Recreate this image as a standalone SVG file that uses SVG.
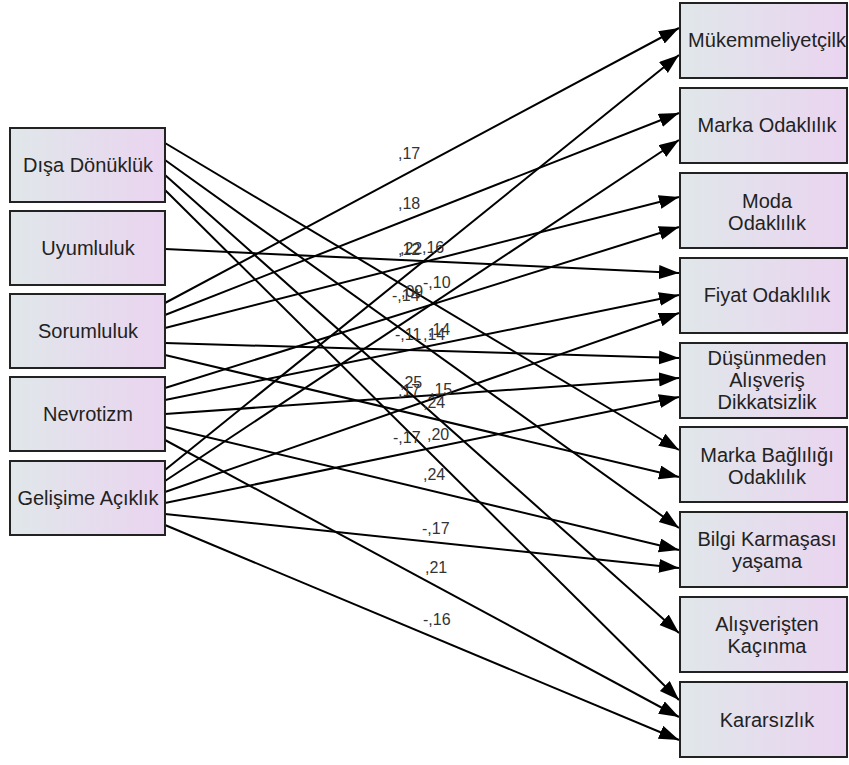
<svg xmlns="http://www.w3.org/2000/svg" width="849" height="765" viewBox="0 0 849 765">
<defs>
<linearGradient id="bg" x1="0" y1="0" x2="1" y2="0">
<stop offset="0" stop-color="#e0e7ea"/>
<stop offset="1" stop-color="#ead4f0"/>
</linearGradient>
<marker id="ah" markerUnits="userSpaceOnUse" markerWidth="22" markerHeight="16" refX="20" refY="7" orient="auto">
<path d="M0,0 L20,7 L0,14 z" fill="#000"/>
</marker>
<style>
.box{fill:url(#bg);stroke:#222;stroke-width:2}
.t{font-family:"Liberation Sans",Arial,sans-serif;font-size:20px;fill:#222;text-anchor:middle}
.e{stroke:#000;stroke-width:2;fill:none;marker-end:url(#ah)}
.l{font-family:"Liberation Sans",Arial,sans-serif;font-size:16px;fill:#333}
</style>
</defs>
<rect width="849" height="765" fill="#fff"/>
<g id="connectors">
<line class="e" x1="165" y1="143" x2="679" y2="450"/>
<line class="e" x1="165" y1="160" x2="679" y2="528"/>
<line class="e" x1="165" y1="175" x2="679" y2="633"/>
<line class="e" x1="165" y1="190" x2="679" y2="700"/>
<line class="e" x1="165" y1="249" x2="679" y2="273"/>
<line class="e" x1="165" y1="303" x2="679" y2="28"/>
<line class="e" x1="165" y1="315" x2="679" y2="113"/>
<line class="e" x1="165" y1="328" x2="679" y2="197"/>
<line class="e" x1="165" y1="343" x2="679" y2="358"/>
<line class="e" x1="165" y1="355" x2="679" y2="477"/>
<line class="e" x1="165" y1="388" x2="679" y2="227"/>
<line class="e" x1="165" y1="400" x2="679" y2="295"/>
<line class="e" x1="165" y1="414" x2="679" y2="378"/>
<line class="e" x1="165" y1="427" x2="679" y2="550"/>
<line class="e" x1="165" y1="440" x2="679" y2="717"/>
<line class="e" x1="165" y1="470" x2="679" y2="55"/>
<line class="e" x1="165" y1="481" x2="679" y2="140"/>
<line class="e" x1="165" y1="492" x2="679" y2="313"/>
<line class="e" x1="165" y1="503" x2="679" y2="397"/>
<line class="e" x1="165" y1="514" x2="679" y2="568"/>
<line class="e" x1="165" y1="525" x2="679" y2="740"/>
</g>
<g id="labels">
<text class="l" x="398" y="159">,17</text>
<text class="l" x="398" y="209">,18</text>
<text class="l" x="400" y="254">,22</text>
<text class="l" x="398" y="255">,12</text>
<text class="l" x="422" y="253">,16</text>
<text class="l" x="423" y="288">-,10</text>
<text class="l" x="401" y="297">,09</text>
<text class="l" x="392" y="301">-,14</text>
<text class="l" x="395" y="340">-,11</text>
<text class="l" x="423" y="340">,14</text>
<text class="l" x="428" y="335">,14</text>
<text class="l" x="400" y="388">,25</text>
<text class="l" x="398" y="396">,17</text>
<text class="l" x="430" y="395">,15</text>
<text class="l" x="423" y="408">,24</text>
<text class="l" x="393" y="443">-,17</text>
<text class="l" x="427" y="440">,20</text>
<text class="l" x="423" y="480">,24</text>
<text class="l" x="422" y="534">-,17</text>
<text class="l" x="425" y="573">,21</text>
<text class="l" x="423" y="625">-,16</text>
</g>
<g id="n_disa"><rect class="box" x="10" y="128" width="155" height="74"/><text class="t" x="88" y="172">Dışa Dönüklük</text></g>
<g id="n_uyum"><rect class="box" x="10" y="211" width="155" height="74"/><text class="t" x="88" y="255">Uyumluluk</text></g>
<g id="n_sorum"><rect class="box" x="10" y="294" width="155" height="74"/><text class="t" x="88" y="338">Sorumluluk</text></g>
<g id="n_nevro"><rect class="box" x="10" y="377" width="155" height="74"/><text class="t" x="88" y="421">Nevrotizm</text></g>
<g id="n_gelis"><rect class="box" x="10" y="461" width="155" height="74"/><text class="t" x="88" y="505">Gelişime Açıklık</text></g>
<g id="n_mukem"><rect class="box" x="680" y="3" width="167" height="75"/><text class="t" x="767" y="47">Mükemmeliyetçilk</text></g>
<g id="n_marka"><rect class="box" x="680" y="88" width="167" height="75"/><text class="t" x="767" y="132">Marka Odaklılık</text></g>
<g id="n_moda"><rect class="box" x="680" y="173" width="167" height="75"/><text class="t" x="767" y="208">Moda</text><text class="t" x="767" y="230">Odaklılık</text></g>
<g id="n_fiyat"><rect class="box" x="680" y="258" width="167" height="75"/><text class="t" x="767" y="302">Fiyat Odaklılık</text></g>
<g id="n_dusun"><rect class="box" x="680" y="343" width="167" height="75"/><text class="t" x="767" y="365">Düşünmeden</text><text class="t" x="767" y="387">Alışveriş</text><text class="t" x="767" y="409">Dikkatsizlik</text></g>
<g id="n_bagli"><rect class="box" x="680" y="427" width="167" height="75"/><text class="t" x="767" y="462">Marka Bağlılığı</text><text class="t" x="767" y="484">Odaklılık</text></g>
<g id="n_bilgi"><rect class="box" x="680" y="512" width="167" height="75"/><text class="t" x="767" y="546">Bilgi Karmaşası</text><text class="t" x="767" y="568">yaşama</text></g>
<g id="n_kacin"><rect class="box" x="680" y="597" width="167" height="75"/><text class="t" x="767" y="631">Alışverişten</text><text class="t" x="767" y="653">Kaçınma</text></g>
<g id="n_karar"><rect class="box" x="680" y="682" width="167" height="75"/><text class="t" x="767" y="727">Kararsızlık</text></g>
</svg>
